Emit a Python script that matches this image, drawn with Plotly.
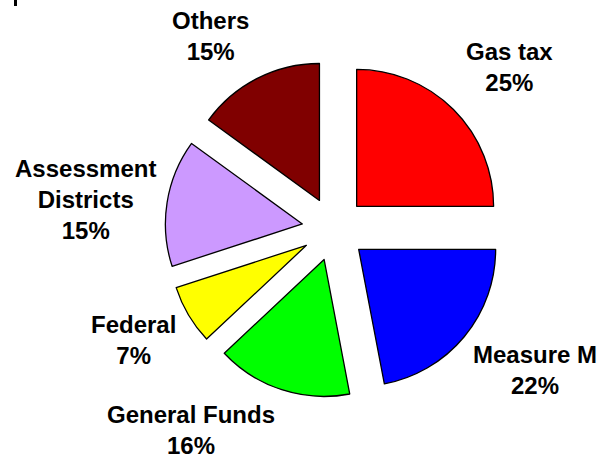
import plotly.graph_objects as go

labels = ["Gas tax", "Measure M", "General Funds", "Federal", "Assessment Districts", "Others"]
label_lines = ["Gas tax", "Measure M", "General Funds", "Federal", "Assessment<br>Districts", "Others"]
values = [25, 22, 16, 7, 15, 15]
colors = ["#FF0000", "#0000FF", "#00FF00", "#FFFF00", "#CC99FF", "#800000"]

W, H = 601, 463
cx, cy = 334, 229      # pie centre in px (from top-left)
half = 169             # half size of the pie domain box

fig = go.Figure(go.Pie(
    labels=labels,
    values=values,
    sort=False,
    direction="clockwise",
    rotation=0,
    pull=[0.234] * len(values),
    marker=dict(colors=colors, line=dict(color="#000000", width=1.3)),
    textinfo="none",
    hoverinfo="label+percent",
    domain=dict(x=[(cx - half) / W, (cx + half) / W],
                y=[(H - cy - half) / H, (H - cy + half) / H]),
    showlegend=False,
))

# label positions (px from top-left)
label_pos = [(509, 67), (535, 370), (191, 430), (133, 340), (85, 199), (210, 36)]
for txt, v, (px, py) in zip(label_lines, values, label_pos):
    fig.add_annotation(
        x=px / W, y=1 - py / H, xref="paper", yref="paper",
        text=f"{txt}<br>{v}%", showarrow=False, align="center",
        xanchor="center", yanchor="middle",
        font=dict(family="Liberation Sans, Arial, sans-serif", size=24, color="#000000", weight="bold"),
    )

fig.add_shape(type="rect", xref="paper", yref="paper",
              x0=14 / W, x1=17 / W, y0=1 - 6 / H, y1=1,
              fillcolor="#000000", line=dict(width=0))

fig.update_layout(
    width=W, height=H,
    margin=dict(l=0, r=0, t=0, b=0),
    paper_bgcolor="#FFFFFF", plot_bgcolor="#FFFFFF",
)

fig.write_html("out.html", config={"displayModeBar": False},
               post_script="document.body.style.margin='0';document.body.style.overflow='hidden';")
